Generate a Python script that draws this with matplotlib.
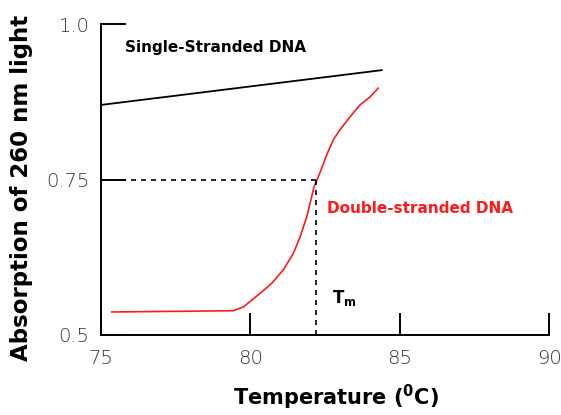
import matplotlib.pyplot as plt

# temperature (C) and absorbance
single_x = [75.0, 84.4]
single_y = [0.870, 0.926]

double_x = [75.37, 79.43, 79.77, 80.33, 80.72, 81.11, 81.44, 81.67, 81.89,
            82.03, 82.13, 82.28, 82.39, 82.56, 82.78, 83.00, 83.34, 83.67,
            84.01, 84.28]
double_y = [0.537, 0.539, 0.545, 0.567, 0.583, 0.605, 0.631, 0.658, 0.690,
            0.717, 0.738, 0.755, 0.768, 0.790, 0.814, 0.830, 0.851, 0.870,
            0.883, 0.897]

tm = 82.2
tm_abs = 0.75

x_ticks = [75, 80, 85, 90]
y_ticks = [0.5, 0.75, 1.0]
y_tick_labels = ['0.5', '0.75', '1.0']

fig = plt.figure(figsize=(5.61, 4.15), dpi=100)
ax = fig.add_axes([0.1795, 0.1928, 0.7995, 0.749])

ax.plot(single_x, single_y, color='black', lw=1.3)
ax.plot(double_x, double_y, color='#ff1a1a', lw=1.2)

# Tm guide lines
ax.plot([75, tm], [tm_abs, tm_abs], color='black', lw=1.2, ls=(0, (3, 3)))
ax.plot([tm, tm], [0.5, tm_abs], color='black', lw=1.2, ls=(0, (3, 3)))

ax.text(75.8, 0.963, 'Single-Stranded DNA', fontsize=11, fontweight='bold',
        va='center', ha='left')
ax.text(82.57, 0.704, 'Double-stranded DNA', fontsize=11, fontweight='bold',
        color='#ff1a1a', va='center', ha='left')
ax.text(82.72, 0.56, r'T$_{\mathbf{m}}$', fontsize=12, fontweight='bold',
        va='center', ha='left')

ax.set_xlim(75, 90)
ax.set_ylim(0.5, 1.0)
ax.set_xticks(x_ticks)
ax.set_yticks(y_ticks)
ax.set_yticklabels(y_tick_labels)

for side in ['top', 'right']:
    ax.spines[side].set_visible(False)
for side in ['left', 'bottom']:
    ax.spines[side].set_linewidth(1.4)

ax.tick_params(axis='x', direction='in', length=16, width=1.4, pad=10,
               labelsize=14)
ax.tick_params(axis='y', direction='in', length=18, width=1.4, pad=8,
               labelsize=14)
for lbl in ax.get_xticklabels() + ax.get_yticklabels():
    lbl.set_fontweight('light')
    lbl.set_color('#333333')

ax.set_xlabel(r'Temperature ($^{\mathbf{0}}$C)', fontsize=15,
              fontweight='bold')
ax.xaxis.set_label_coords(0.525, -0.155)
ax.set_ylabel('Absorption of 260 nm light', fontsize=16.5, fontweight='bold')
ax.yaxis.set_label_coords(-0.151, 0.473)

fig.savefig('out.png', dpi=100)
